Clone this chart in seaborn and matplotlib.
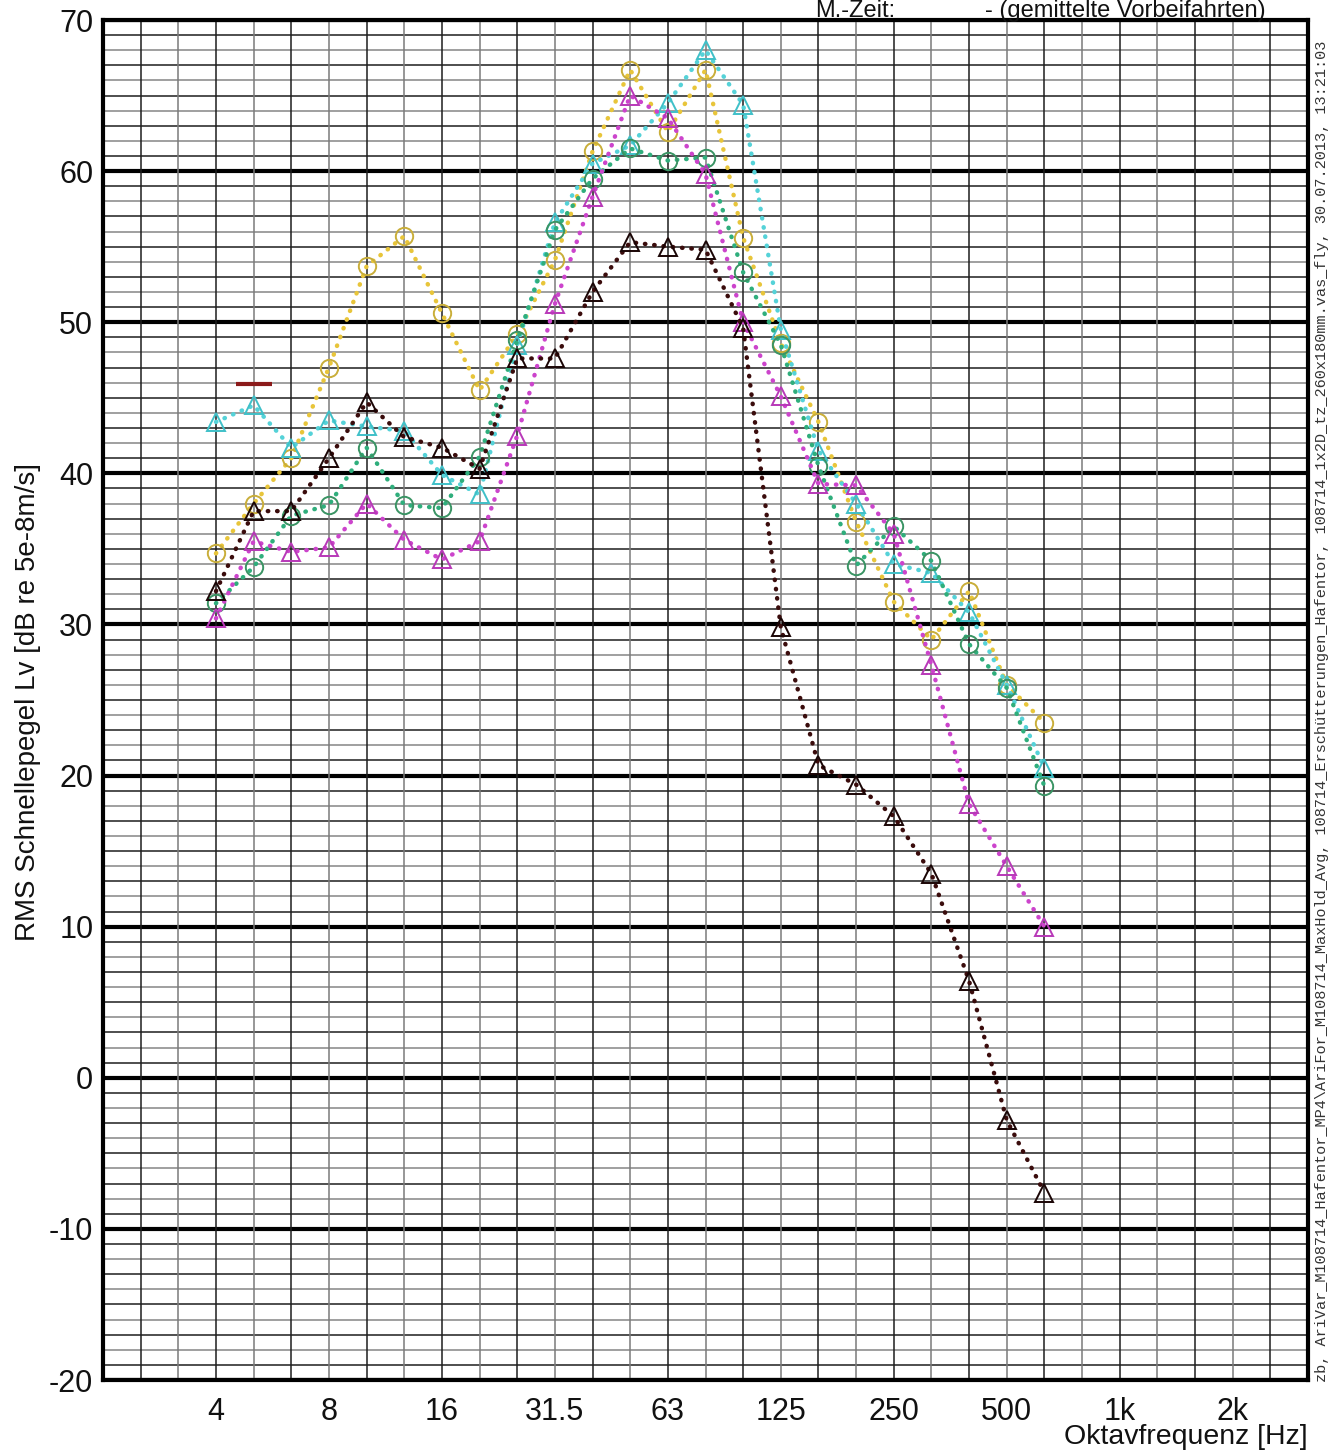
import numpy as np
import pandas as pd
import seaborn as sns
import matplotlib
matplotlib.use("Agg")
import matplotlib.pyplot as plt

# third-octave bands 4 Hz .. 630 Hz (band index 0 = 4 Hz)
bands = ['4', '5', '6.3', '8', '10', '12.5', '16', '20', '25', '31.5', '40', '50',
         '63', '80', '100', '125', '160', '200', '250', '315', '400', '500', '630']
tick_labels = ['4', '8', '16', '31.5', '63', '125', '250', '500', '1k', '2k']

yellow = [34.7, 38.0, 41.0, 47.0, 53.7, 55.7, 50.6, 45.5, 49.2, 54.1, 61.3, 66.7,
          62.6, 66.7, 55.6, 48.6, 43.4, 36.8, 31.5, 29.0, 32.2, 26.0, 23.5]
cyan = [43.4, 44.5, 41.7, 43.5, 43.1, 42.8, 39.9, 38.6, 48.5, 56.6, 60.5, 61.7,
        64.5, 68.0, 64.4, 49.5, 41.5, 38.0, 34.0, 33.4, 30.8, 26.0, 20.5]
green = [31.4, 33.8, 37.2, 37.9, 41.7, 37.9, 37.7, 41.1, 48.8, 56.1, 59.5, 61.5,
         60.7, 60.9, 53.3, 48.5, 40.5, 33.9, 36.5, 34.2, 28.7, 25.8, 19.3]
magenta = [30.4, 35.5, 34.8, 35.1, 38.0, 35.6, 34.3, 35.5, 42.5, 51.2, 58.3, 65.0,
           63.5, 59.8, 50.0, 45.1, 39.3, 39.2, 36.0, 27.3, 18.1, 14.0, 10.0]
brown = [32.2, 37.5, 37.5, 41.0, 44.7, 42.4, 41.7, 40.3, 47.6, 47.6, 52.0, 55.3,
         55.0, 54.8, 49.6, 29.8, 20.7, 19.4, 17.3, 13.5, 6.4, -2.8, -7.6]
single_band = 1
single_value = 45.9

series = [
    (yellow, '#e8c53a', '#c9ae3a', 'o'),
    (cyan, '#55d2d8', '#3fc0c8', '^'),
    (green, '#2fae7c', '#3a9464', 'o'),
    (magenta, '#cc44cc', '#b838b8', '^'),
    (brown, '#3a0c0c', '#1a0505', '^'),
]

sns.set_style('white')
plt.rcParams['font.family'] = ['Liberation Sans', 'DejaVu Sans']
plt.rcParams['axes.unicode_minus'] = False

fig = plt.figure(figsize=(13.4, 14.55), dpi=100)
ax = fig.add_axes([103 / 1340, 1 - 1380 / 1455, 1205 / 1340, 1360 / 1455])

# grid
for k, v in enumerate(range(-20, 71)):
    if v % 10 == 0:
        ax.axhline(v, color='black', lw=3, zorder=1)
    else:
        ax.axhline(v, color='#1e1e1e' if k % 2 else '#858585', lw=1.1, zorder=1)
for k in range(-3, 30):
    ax.axvline(k, color='#1e1e1e' if k % 2 == 0 else '#7a7a7a', lw=1.1, zorder=1)

x = np.arange(len(bands))
for vals, lc, mc, mk in series:
    df = pd.DataFrame({'band': x, 'level': vals})
    sns.lineplot(data=df, x='band', y='level', ax=ax, color=lc, lw=3.2,
                 dashes=False, linestyle=(0, (0.1, 2.0)), dash_capstyle='round',
                 marker=mk, markersize=12.5, markerfacecolor='none',
                 markeredgecolor=mc, markeredgewidth=1.4, zorder=3)

ax.scatter([single_band], [single_value], marker='_', s=700, color='#8b1a1a',
           linewidths=3, zorder=4)

ax.set_xlim(-3, 29)
ax.set_ylim(-20, 70)
ax.set_xticks(np.arange(0, 28, 3))
ax.set_xticklabels(tick_labels)
ax.set_yticks(np.arange(-20, 71, 10))
ax.tick_params(axis='both', length=0, labelsize=22, colors='#111111')
ax.tick_params(axis='x', pad=12)
ax.tick_params(axis='y', pad=7)
ax.set_xlabel('')
ax.set_ylabel('')
for s in ax.spines.values():
    s.set_visible(True)
    s.set_color('black')
    s.set_linewidth(3)

fig.text(28 / 1340, 1 - 702 / 1455, 'RMS Schnellepegel Lv [dB re 5e-8m/s]',
         rotation=90, ha='center', va='center', fontsize=20, color='#111111')
fig.text(1308 / 1340, 1 - 1437 / 1455, 'Oktavfrequenz [Hz]', ha='right',
         va='center', fontsize=20.5, color='#111111')
fig.text(815 / 1340, 1 - 17 / 1455, 'M.-Zeit:', ha='left', va='baseline',
         fontsize=17, color='#111111')
fig.text(985 / 1340, 1 - 17 / 1455, '- (gemittelte Vorbeifahrten)', ha='left',
         va='baseline', fontsize=17, color='#111111')
fig.text(1322 / 1340, 1 - 1382 / 1455,
         'zb, AriVar_M108714_Hafentor_MP4\\AriFor_M108714_MaxHold_Avg, '
         '108714_Erschütterungen_Hafentor, 108714_1x2D_tz_260x180mm.vas_fly, '
         '30.07.2013, 13:21:03',
         rotation=90, ha='center', va='bottom', fontsize=11,
         family='Liberation Mono', color='#333333')

fig.savefig('out.png', dpi=100, facecolor='white')
